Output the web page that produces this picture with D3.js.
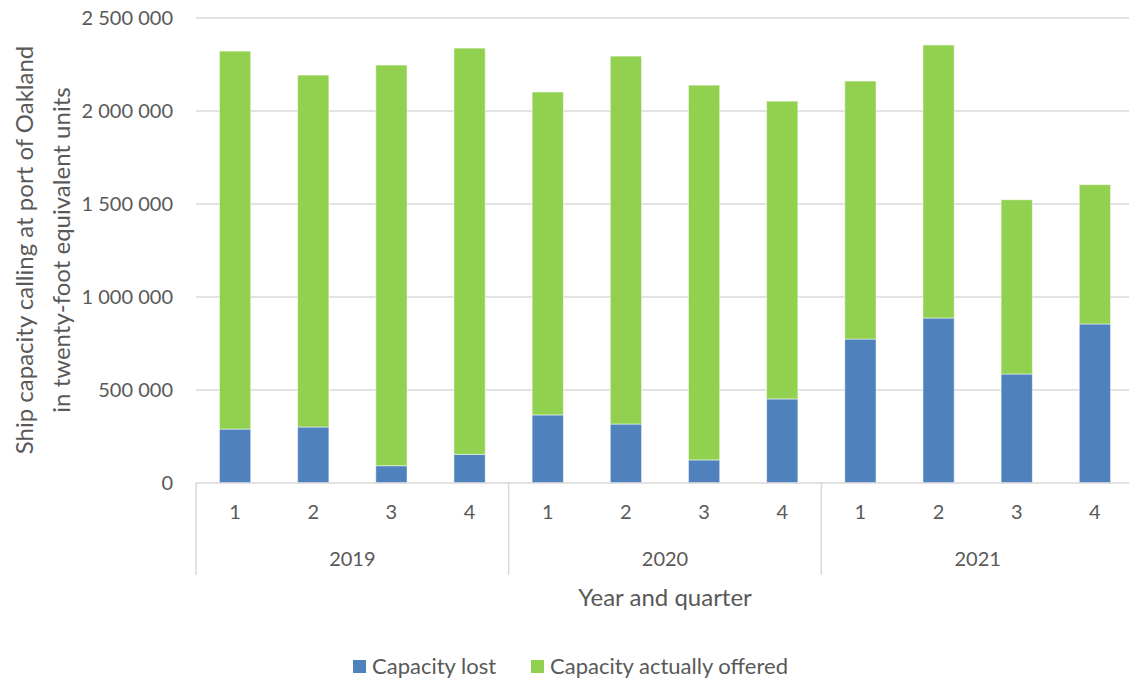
<!doctype html>
<html>
<head>
<meta charset="utf-8">
<title>Port of Oakland capacity</title>
<script src="https://d3js.org/d3.v7.min.js"></script>
<style>
body { margin: 0; background: white; }
text { font-family: Lato, "Open Sans", sans-serif; fill: #595959; }
</style>
</head>
<body>
<div id="chart"></div>
<script>
// data
var years = ["2019", "2020", "2021"];
var quarters = ["1", "2", "3", "4"];
var capacityLost = [290000, 301000, 93000, 154000, 366000, 317000, 124000, 452000, 774000, 887000, 586000, 855000];
var capacityTotal = [2322000, 2193000, 2247000, 2338000, 2102000, 2295000, 2139000, 2053000, 2161000, 2355000, 1523000, 1604000];
var capacityOffered = capacityTotal.map(function(t, i) { return t - capacityLost[i]; });
var yTicks = [0, 500000, 1000000, 1500000, 2000000, 2500000];
var seriesNames = ["Capacity lost", "Capacity actually offered"];
var seriesColors = ["#4f81bd", "#92d050"];

var W = 1129, H = 685;
var margin = { top: 18, left: 196, right: 1134, bottom: 483 };

var svg = d3.select("#chart").append("svg")
  .attr("width", W)
  .attr("height", H);

var keys = [];
years.forEach(function(y) { quarters.forEach(function(q) { keys.push(y + "-" + q); }); });

var rows = keys.map(function(k, i) {
  return { key: k, lost: capacityLost[i], offered: capacityOffered[i] };
});

var x = d3.scaleBand()
  .domain(keys)
  .range([margin.left, margin.right])
  .paddingInner(0.6)
  .paddingOuter(0.3);

var y = d3.scaleLinear()
  .domain([0, 2500000])
  .range([margin.bottom, margin.top]);

var fmt = function(v) { return d3.format(",")(v).replace(/,/g, " "); };

// gridlines
svg.append("g")
  .selectAll("line")
  .data(yTicks.slice(1))
  .join("line")
  .attr("x1", margin.left)
  .attr("x2", W)
  .attr("y1", function(d) { return y(d); })
  .attr("y2", function(d) { return y(d); })
  .attr("stroke", "#d9d9d9")
  .attr("stroke-width", 1.5);

// y tick labels
svg.append("g")
  .selectAll("text")
  .data(yTicks)
  .join("text")
  .attr("x", 173)
  .attr("y", function(d) { return y(d); })
  .attr("dy", "0.35em")
  .attr("text-anchor", "end")
  .attr("font-size", "20px")
  .text(fmt);

// stacked bars
var stack = d3.stack().keys(["lost", "offered"]);
var layers = stack(rows);

svg.append("g")
  .selectAll("g")
  .data(layers)
  .join("g")
  .attr("fill", function(d, i) { return seriesColors[i]; })
  .selectAll("rect")
  .data(function(d) { return d; })
  .join("rect")
  .attr("x", function(d) { return x(d.data.key); })
  .attr("width", x.bandwidth())
  .attr("y", function(d) { return y(d[1]); })
  .attr("height", function(d) { return y(d[0]) - y(d[1]); })
  .attr("stroke", "white")
  .attr("stroke-opacity", 0.5)
  .attr("stroke-width", 1);

// x axis line and category separators
var step = x.step();
var left = margin.left;
svg.append("line")
  .attr("x1", left).attr("x2", W)
  .attr("y1", y(0)).attr("y2", y(0))
  .attr("stroke", "#d9d9d9").attr("stroke-width", 1.5);

var sepX = [0, 4, 8, 12].map(function(i) { return left + i * step; });
svg.append("g")
  .selectAll("line")
  .data(sepX)
  .join("line")
  .attr("x1", function(d) { return d; })
  .attr("x2", function(d) { return d; })
  .attr("y1", y(0))
  .attr("y2", 575)
  .attr("stroke", "#d9d9d9")
  .attr("stroke-width", 1.5);

// quarter labels
svg.append("g")
  .selectAll("text")
  .data(keys)
  .join("text")
  .attr("x", function(d) { return x(d) + x.bandwidth() / 2; })
  .attr("y", 519)
  .attr("text-anchor", "middle")
  .attr("font-size", "20px")
  .text(function(d) { return d.split("-")[1]; });

// year labels
svg.append("g")
  .selectAll("text")
  .data(years)
  .join("text")
  .attr("x", function(d, i) { return (sepX[i] + sepX[i + 1]) / 2; })
  .attr("y", 566)
  .attr("text-anchor", "middle")
  .attr("font-size", "20px")
  .text(function(d) { return d; });

// axis titles
svg.append("text")
  .attr("x", 665)
  .attr("y", 606)
  .attr("text-anchor", "middle")
  .attr("font-size", "24px")
  .text("Year and quarter");

var yTitle = svg.append("text")
  .attr("transform", "translate(0,250) rotate(-90)")
  .attr("text-anchor", "middle")
  .attr("font-size", "24px");
yTitle.append("tspan").attr("x", 0).attr("y", 33).text("Ship capacity calling at port of Oakland");
yTitle.append("tspan").attr("x", 0).attr("y", 70).text("in twenty-foot equivalent units");

// legend
var legendX = [353, 531];
var legend = svg.append("g")
  .selectAll("g")
  .data(seriesNames)
  .join("g")
  .attr("transform", function(d, i) { return "translate(" + legendX[i] + ",660)"; });
legend.append("rect")
  .attr("width", 13).attr("height", 13)
  .attr("fill", function(d, i) { return seriesColors[i]; });
legend.append("text")
  .attr("x", 19).attr("y", 14)
  .attr("font-size", "22px")
  .text(function(d) { return d; });
</script>
</body>
</html>
